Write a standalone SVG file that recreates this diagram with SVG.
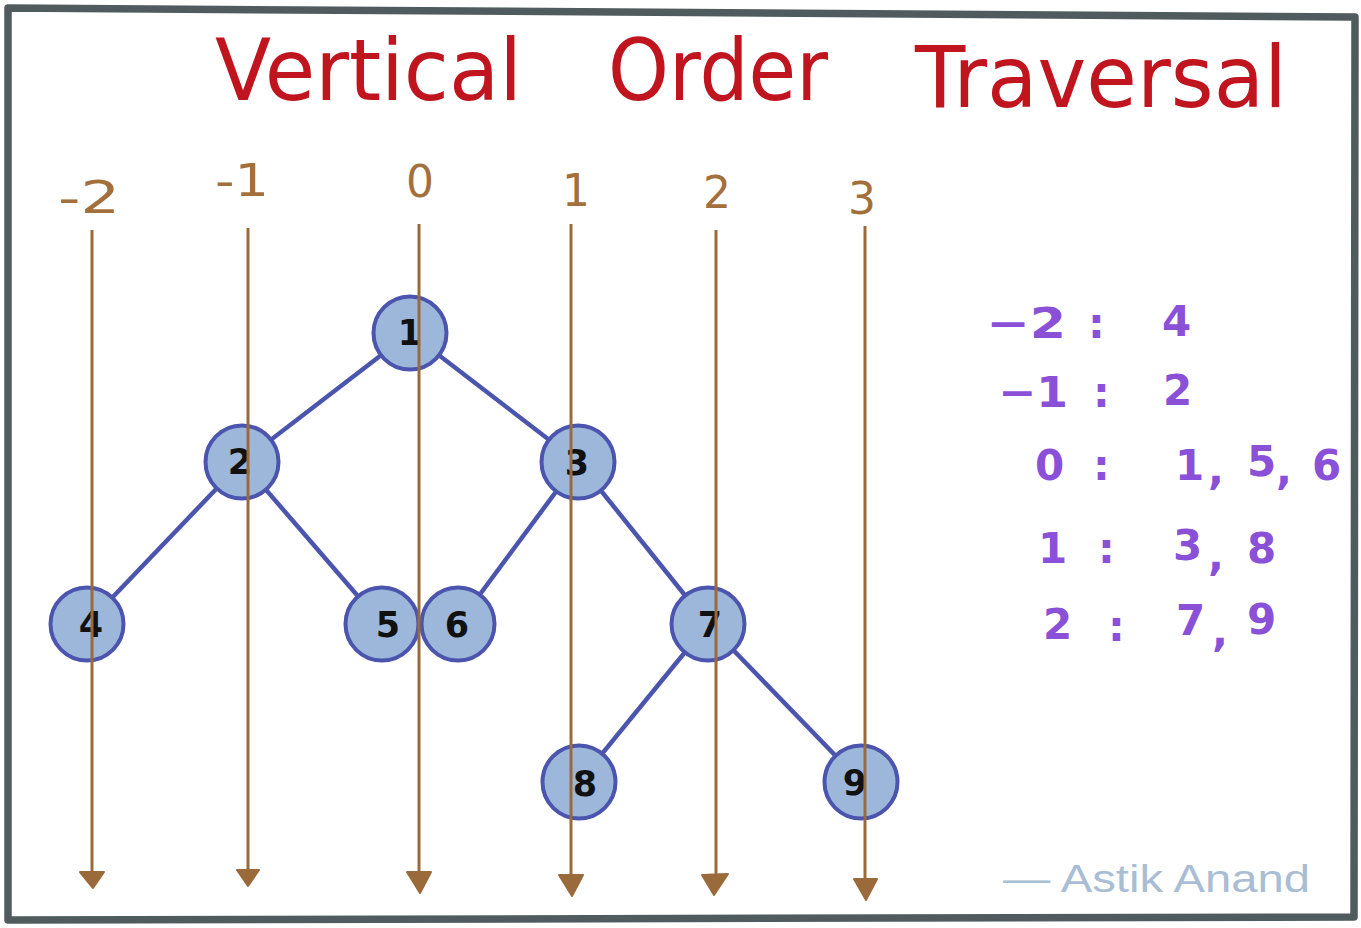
<svg xmlns="http://www.w3.org/2000/svg" width="1361" height="928" viewBox="0 0 1361 928">
<style>
.title{font-family:"DejaVu Sans","Liberation Sans",sans-serif;font-size:86px;fill:#c0141e;}
.col{font-family:"DejaVu Sans","Liberation Sans",sans-serif;font-size:44px;fill:#a36f3c;}
.node circle{fill:#9db7da;stroke:#4b55ad;stroke-width:4;}
.node text{font-family:"DejaVu Sans","Liberation Sans",sans-serif;font-size:35px;font-weight:bold;fill:#111;text-anchor:middle;}
.edge{stroke:#4b55ad;stroke-width:4.5;fill:none;}
.vline{stroke:#9b6a3b;stroke-width:3;fill:none;}
.head{fill:#9b6a3b;stroke:#9b6a3b;stroke-width:2;stroke-linejoin:round;}
.res{font-family:"DejaVu Sans","Liberation Sans",sans-serif;font-size:42px;font-weight:bold;fill:#8a50d8;}
.sig{font-family:"Liberation Sans","DejaVu Sans",sans-serif;font-size:38px;fill:#a9bdd4;}
</style>
<rect x="0" y="0" width="1361" height="928" fill="#ffffff"/>
<polygon points="8,8 1355,17 1354,917 8,920" fill="#ffffff" stroke="#4f5b5c" stroke-width="7.5" stroke-linejoin="round"/>

<g id="title">
<text class="title" x="215" y="100" textLength="307" lengthAdjust="spacingAndGlyphs">Vertical</text>
<text class="title" x="608" y="100" textLength="220" lengthAdjust="spacingAndGlyphs">Order</text>
<text class="title" x="915" y="107" textLength="372" lengthAdjust="spacingAndGlyphs">Traversal</text>
</g>

<g id="column-labels">
<text class="col" x="58" y="213" textLength="62" lengthAdjust="spacingAndGlyphs">-2</text>
<text class="col" x="215" y="196" textLength="54" lengthAdjust="spacingAndGlyphs">-1</text>
<text class="col" x="406" y="197">0</text>
<text class="col" x="562" y="206">1</text>
<text class="col" x="703" y="208">2</text>
<text class="col" x="848" y="214">3</text>
</g>

<g id="connectors">
<line class="edge" x1="410" y1="333" x2="242" y2="462"/>
<line class="edge" x1="410" y1="333" x2="578" y2="462"/>
<line class="edge" x1="242" y1="462" x2="87" y2="624"/>
<line class="edge" x1="242" y1="462" x2="382" y2="624"/>
<line class="edge" x1="578" y1="462" x2="458" y2="624"/>
<line class="edge" x1="578" y1="462" x2="708" y2="624"/>
<line class="edge" x1="708" y1="624" x2="579" y2="782"/>
<line class="edge" x1="708" y1="624" x2="861" y2="782"/>
</g>

<g id="node-1" class="node"><circle cx="410" cy="333" r="36.5"/><text x="410" y="345">1</text></g>
<g id="node-2" class="node"><circle cx="242" cy="462" r="36.5"/><text x="240" y="474">2</text></g>
<g id="node-3" class="node"><circle cx="578" cy="462" r="36.5"/><text x="577" y="475">3</text></g>
<g id="node-4" class="node"><circle cx="87" cy="624" r="36.5"/><text x="91" y="637">4</text></g>
<g id="node-5" class="node"><circle cx="382" cy="624" r="36.5"/><text x="388" y="637">5</text></g>
<g id="node-6" class="node"><circle cx="458" cy="624" r="36.5"/><text x="457" y="637">6</text></g>
<g id="node-7" class="node"><circle cx="708" cy="624" r="36.5"/><text x="710" y="637">7</text></g>
<g id="node-8" class="node"><circle cx="579" cy="782" r="36.5"/><text x="585" y="796">8</text></g>
<g id="node-9" class="node"><circle cx="861" cy="782" r="36.5"/><text x="855" y="795">9</text></g>

<g id="columns">
<line class="vline" x1="92" y1="230" x2="92" y2="876"/>
<path class="head" d="M80,872 L104,872 L93,888 Z"/>
<line class="vline" x1="248" y1="228" x2="248" y2="874"/>
<path class="head" d="M237,870 L259,870 L248,886 Z"/>
<line class="vline" x1="419" y1="224" x2="419" y2="876"/>
<path class="head" d="M407,872 L431,872 L420,893 Z"/>
<line class="vline" x1="571" y1="224" x2="571" y2="878"/>
<path class="head" d="M559,875 L583,875 L572,896 Z"/>
<line class="vline" x1="716" y1="230" x2="716" y2="878"/>
<path class="head" d="M702,875 L728,874 L714,895 Z"/>
<line class="vline" x1="865" y1="226" x2="865" y2="882"/>
<path class="head" d="M854,879 L877,879 L866,900 Z"/>
</g>

<g id="results">
<text class="res" x="986" y="338" textLength="80" lengthAdjust="spacingAndGlyphs">−2</text>
<text class="res" x="1088" y="338">:</text>
<text class="res" x="1162" y="336">4</text>
<text class="res" x="998" y="407" textLength="70" lengthAdjust="spacingAndGlyphs">−1</text>
<text class="res" x="1093" y="407">:</text>
<text class="res" x="1163" y="405">2</text>
<text class="res" x="1035" y="480">0</text>
<text class="res" x="1093" y="480">:</text>
<text class="res" x="1175" y="480">1</text>
<text class="res" x="1208" y="484">,</text>
<text class="res" x="1247" y="476">5</text>
<text class="res" x="1276" y="484">,</text>
<text class="res" x="1312" y="480">6</text>
<text class="res" x="1038" y="563">1</text>
<text class="res" x="1098" y="563">:</text>
<text class="res" x="1173" y="560">3</text>
<text class="res" x="1208" y="570">,</text>
<text class="res" x="1247" y="563">8</text>
<text class="res" x="1043" y="639">2</text>
<text class="res" x="1108" y="641">:</text>
<text class="res" x="1176" y="635">7</text>
<text class="res" x="1212" y="646">,</text>
<text class="res" x="1247" y="634">9</text>
</g>

<text class="sig" x="1003" y="892" textLength="307" lengthAdjust="spacingAndGlyphs">— Astik Anand</text>
</svg>
